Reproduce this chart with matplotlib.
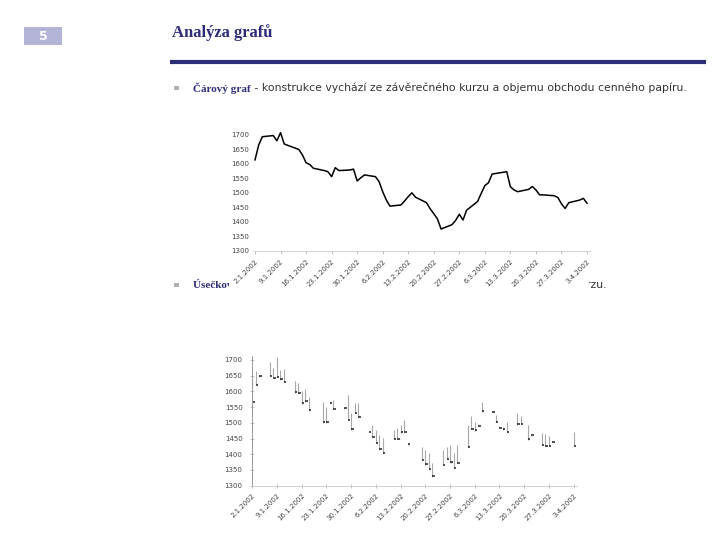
import numpy as np
import pandas as pd
import matplotlib
matplotlib.use('Agg')
import matplotlib.pyplot as plt
import matplotlib.dates as mdates
import matplotlib.patches as mpatches
from matplotlib.ticker import FuncFormatter

# %% data
# line chart: closing price, business days 2.1.2002 - 3.4.2002
line_dates = pd.bdate_range('2002-01-02', '2002-04-03')
line_close = [1614, 1665, 1694, 1698, 1680, 1708, 1669, 1664, 1650, 1631,
              1604, 1598, 1585, 1577, 1573, 1556, 1587, 1577, 1579, 1582,
              1541, 1552, 1562, 1556, 1539, 1504, 1475, 1454, 1458, 1472,
              1487, 1500, 1485, 1466, 1445, 1428, 1410, 1375, 1390, 1405,
              1426, 1406, 1440, 1470, 1498, 1525, 1535, 1565, 1571, 1573,
              1521, 1510, 1504, 1512, 1522, 1510, 1493, 1493, 1490, 1484,
              1462, 1446, 1466, 1475, 1481, 1464]

# bar chart: high / low / close
bar_dates = pd.to_datetime([
    '2002-01-02', '2002-01-03', '2002-01-04', '2002-01-07', '2002-01-08',
    '2002-01-09', '2002-01-10', '2002-01-11', '2002-01-14', '2002-01-15',
    '2002-01-16', '2002-01-17', '2002-01-18', '2002-01-22', '2002-01-23',
    '2002-01-24', '2002-01-25', '2002-01-28', '2002-01-29', '2002-01-30',
    '2002-01-31', '2002-02-01', '2002-02-04', '2002-02-05', '2002-02-06',
    '2002-02-07', '2002-02-08', '2002-02-11', '2002-02-12', '2002-02-13',
    '2002-02-14', '2002-02-15', '2002-02-19', '2002-02-20', '2002-02-21',
    '2002-02-22', '2002-02-25', '2002-02-26', '2002-02-27', '2002-02-28',
    '2002-03-01', '2002-03-04', '2002-03-05', '2002-03-06', '2002-03-07',
    '2002-03-08', '2002-03-11', '2002-03-12', '2002-03-13', '2002-03-14',
    '2002-03-15', '2002-03-18', '2002-03-19', '2002-03-21', '2002-03-22',
    '2002-03-25', '2002-03-26', '2002-03-27', '2002-03-28', '2002-04-03'])
bar_high = [1652, 1666, 1652, 1695, 1673, 1710, 1668, 1670, 1634, 1626,
            1602, 1607, 1583, 1567, 1551, 1566, 1573, 1548, 1589, 1530,
            1562, 1562, 1474, 1493, 1477, 1461, 1451, 1477, 1483, 1493,
            1509, 1434, 1422, 1414, 1403, 1371, 1414, 1424, 1430, 1403,
            1430, 1493, 1522, 1504, 1496, 1567, 1538, 1525, 1490, 1488,
            1504, 1530, 1522, 1493, 1462, 1467, 1464, 1458, 1442, 1472]
bar_low = [1565, 1620, 1647, 1649, 1642, 1647, 1636, 1629, 1596, 1594,
           1560, 1567, 1539, 1500, 1500, 1562, 1543, 1544, 1509, 1477,
           1530, 1520, 1470, 1454, 1435, 1414, 1403, 1448, 1448, 1469,
           1472, 1430, 1382, 1366, 1350, 1329, 1366, 1384, 1371, 1355,
           1371, 1422, 1479, 1474, 1490, 1536, 1534, 1504, 1483, 1477,
           1472, 1493, 1496, 1445, 1458, 1430, 1426, 1426, 1438, 1426]
bar_close = [1565, 1620, 1649, 1649, 1642, 1647, 1640, 1629, 1598, 1594,
             1562, 1570, 1540, 1503, 1503, 1564, 1545, 1546, 1510, 1480,
             1532, 1520, 1472, 1456, 1437, 1416, 1405, 1450, 1448, 1470,
             1472, 1432, 1382, 1368, 1352, 1330, 1366, 1386, 1375, 1355,
             1373, 1422, 1480, 1476, 1490, 1538, 1536, 1504, 1485, 1479,
             1472, 1495, 1496, 1447, 1460, 1430, 1427, 1427, 1440, 1426]

tick_dates = pd.date_range('2002-01-02', '2002-04-03', freq='7D')
y_ticks = [1300, 1350, 1400, 1450, 1500, 1550, 1600, 1650, 1700]

NAVY = '#2d2d78'
W, H = 720, 540

fig = plt.figure(figsize=(7.2, 5.4), dpi=100, facecolor='white')

# slide layer in pixel coordinates
bg = fig.add_axes([0, 0, 1, 1])
bg.set_xlim(0, W)
bg.set_ylim(H, 0)
bg.axis('off')

bg.add_patch(mpatches.Rectangle((24, 27), 38, 18, color='#b4b4d8', lw=0))
bg.text(43, 36, '5', color='white', fontsize=9, fontweight='bold',
        ha='center', va='center', family='DejaVu Sans')
bg.text(172, 33, 'Analýza grafů', color=NAVY, fontsize=12, fontweight='bold',
        ha='left', va='center', family='Liberation Serif')
bg.plot([170, 706], [62, 62], color=NAVY, lw=3, solid_capstyle='butt')

# bullets
for yb in (88, 285):
    bg.add_patch(mpatches.Rectangle((174, yb - 2.5), 4.5, 4.5, color='#b0b0b0', lw=0))

t1 = bg.text(193, 88, 'Čárový graf', color=NAVY, fontsize=8, fontweight='bold',
             ha='left', va='center', family='Liberation Serif')
bg.annotate(' - konstrukce vychází ze závěrečného kurzu a objemu obchodu cenného papíru.',
            xy=(1, 0.5), xycoords=t1, ha='left', va='center', fontsize=7.8,
            color='#333333', family='DejaVu Sans')

# second bullet: mostly hidden behind the first chart picture
bg.text(193, 285, 'Úsečkový graf', color=NAVY, fontsize=8, fontweight='bold',
        ha='left', va='center', family='Liberation Serif')
bg.text(607, 285, ' - vychází z nejvyšší a nejnižší ceny a ze závěrečného kurzu.',
        ha='right', va='center', fontsize=7.8, color='#333333', family='DejaVu Sans')

# white picture area of the first chart covering the second bullet
bg.add_patch(mpatches.Rectangle((229, 118), 360, 177, color='white', lw=0, zorder=10))


def date_fmt(x, pos):
    d = mdates.num2date(x)
    return f'{d.day}.{d.month}.{d.year}'


def style_axis(ax):
    ax.set_yticks(y_ticks)
    ax.set_xticks(mdates.date2num(tick_dates))
    ax.xaxis.set_major_formatter(FuncFormatter(date_fmt))
    ax.tick_params(axis='both', labelsize=5, labelcolor='#444444', colors='#aaaaaa')
    for lab in ax.get_xticklabels():
        lab.set_rotation(45)
        lab.set_ha('right')
        lab.set_rotation_mode('anchor')
    ax.spines['top'].set_visible(False)
    ax.spines['right'].set_visible(False)
    ax.spines['bottom'].set_color('#cccccc')
    ax.spines['bottom'].set_linewidth(0.6)


d0 = mdates.date2num(pd.Timestamp('2002-01-02'))
d1 = mdates.date2num(pd.Timestamp('2002-04-03'))

# --- line chart
ax1 = fig.add_axes([253 / W, 1 - 250.7 / H, 337 / W, 121.5 / H])
ax1.set_zorder(5)
ax1.plot(mdates.date2num(line_dates), line_close, color='black', lw=1.1)
ax1.set_xlim(d0 - 0.55, d1 + 0.82)
ax1.set_ylim(1300, 1720)
style_axis(ax1)
ax1.spines['left'].set_visible(False)
ax1.tick_params(axis='y', length=0, pad=3)
ax1.tick_params(axis='x', length=2, width=0.5)

# --- bar chart (high-low with close)
ax2 = fig.add_axes([251.5 / W, 1 - 485.7 / H, 325 / W, 129.5 / H])
ax2.set_zorder(5)
bx = mdates.date2num(bar_dates)
ax2.vlines(bx, bar_low, bar_high, color='#a8a8a8', lw=0.8)
ax2.hlines(bar_close, bx, bx + 0.7, color='#222222', lw=1.1)
ax2.set_xlim(d0 - 0.2, d1 + 0.8)
ax2.set_ylim(1300, 1712)
style_axis(ax2)
ax2.spines['left'].set_color('#999999')
ax2.spines['left'].set_linewidth(0.7)
ax2.tick_params(axis='y', direction='inout', length=3, width=0.5, pad=5)
ax2.tick_params(axis='x', direction='inout', length=3, width=0.5)

fig.savefig('out.png', dpi=100, facecolor='white')
